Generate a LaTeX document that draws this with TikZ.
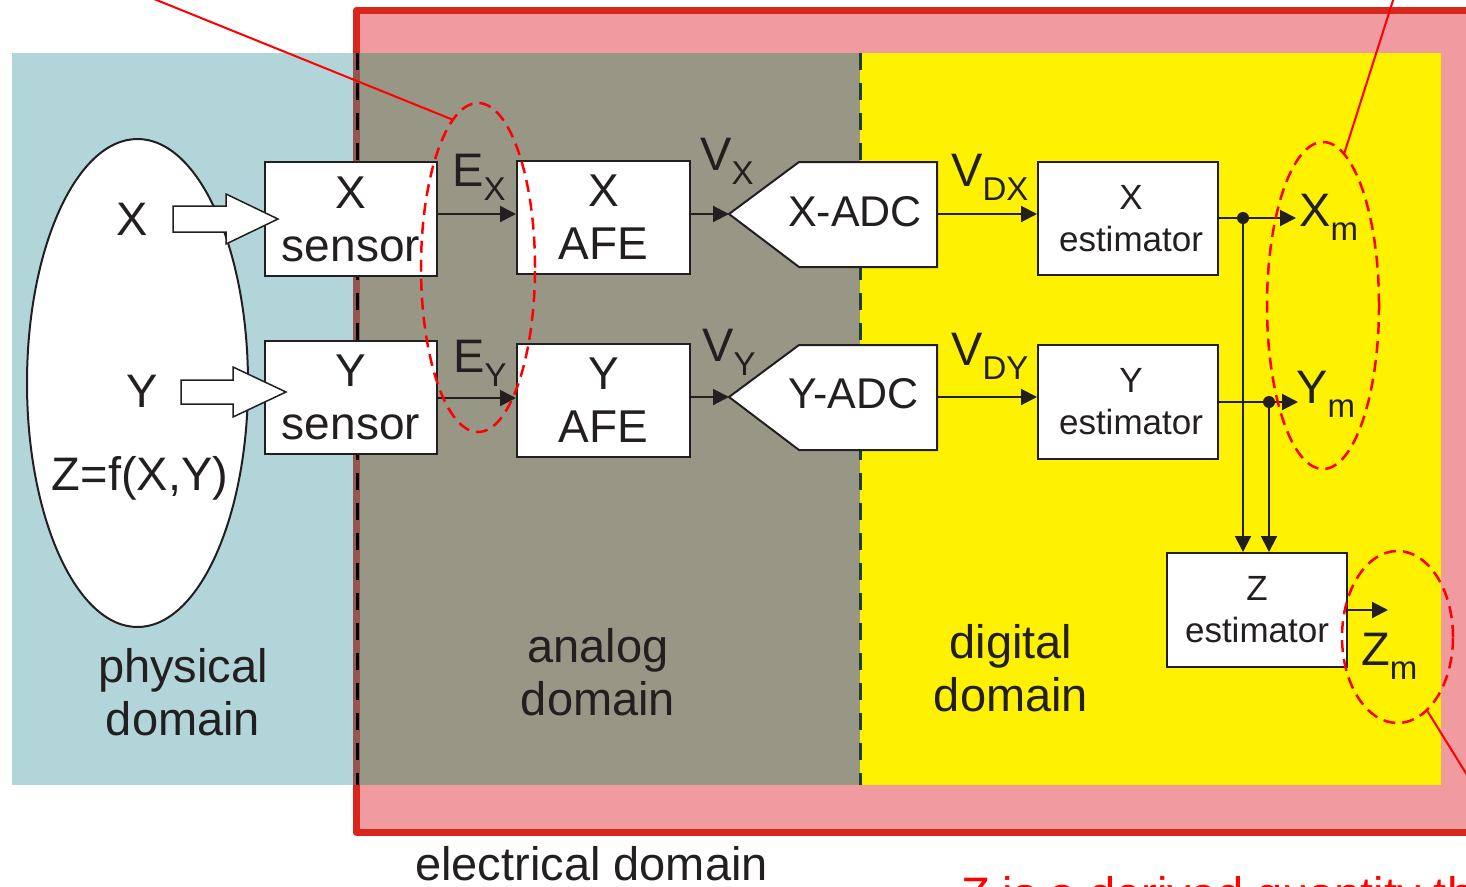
\documentclass[tikz,border=0pt]{standalone}
\usepackage{fontspec}
\setmainfont{Liberation Sans}
\usetikzlibrary{shapes.geometric,arrows.meta}
\definecolor{ink}{RGB}{35,31,32}
\definecolor{physblue}{RGB}{178,213,217}
\definecolor{anagray}{RGB}{152,150,133}
\definecolor{digyellow}{RGB}{255,242,0}
\definecolor{elpink}{RGB}{240,155,160}
\definecolor{elred}{RGB}{218,37,29}
\definecolor{stripecol}{RGB}{150,85,80}
\definecolor{sepgreen}{RGB}{30,60,50}
\definecolor{callred}{RGB}{255,0,0}
\newcommand{\sublbl}[2]{#1\raisebox{-14pt}{\fontsize{33}{33}\selectfont #2}}
\begin{document}
\begin{tikzpicture}[x=1pt,y=-1pt,
  blk/.style={draw=ink, line width=2pt, fill=white, inner sep=0pt, align=center, text=ink, font=\fontsize{46}{53}\selectfont},
  estbox/.style={blk, font=\fontsize{35}{42}\selectfont},
  adcshape/.style={draw=ink, line width=2pt, fill=white},
  adctext/.style={inner sep=0pt, text=ink, font=\fontsize{43}{50}\selectfont},
  conn/.style={draw=ink, line width=2pt, -{Triangle[length=16pt,width=16pt]}},
  plainline/.style={draw=ink, line width=2pt},
  fatarrow/.style={draw=ink, line width=1.5pt, fill=white, line join=miter},
  sig/.style={anchor=base west, inner sep=0pt, text=ink, font=\fontsize{47}{53}\selectfont},
  domlabel/.style={inner sep=0pt, align=center, text=ink, font=\fontsize{47}{53}\selectfont},
  var/.style={anchor=base, inner sep=0pt, text=ink, font=\fontsize{47}{53}\selectfont},
  sepline/.style={line width=3pt, dash pattern=on 17pt off 13pt},
  callell/.style={ellipse, draw=callred, line width=2.5pt, dash pattern=on 12pt off 7pt, inner sep=0pt},
  callline/.style={draw=callred, line width=2pt},
  dotnode/.style={circle, fill=ink, inner sep=0pt, minimum size=12pt}
]
\useasboundingbox (0,0) rectangle (1466,886);
\clip (0,0) rectangle (1466,886);

% electrical domain frame
\filldraw[fill=elpink, draw=elred, line width=7pt, line join=round] (356,10.5) rectangle (1530,832);
% domain regions
\fill[physblue] (12,53) rectangle (357,785);
\fill[anagray] (357,53) rectangle (860,785);
\fill[digyellow] (860,53) rectangle (1441,785);
\draw[stripecol, line width=7pt] (356,53) -- (356,785);
\draw[sepline, black] (357,53) -- (357,785);
\draw[sepline, sepgreen] (860,53) -- (860,785);

% domain labels
\node[domlabel] (physlbl) at (183,692) {physical\\domain};
\node[domlabel] (analbl) at (598,672) {analog\\domain};
\node[domlabel] (diglbl) at (1011,668) {digital\\domain};
\node[var] (elelbl) at (591.5,880) {electrical domain};
\node[anchor=base west, inner sep=0pt, text=callred, font=\fontsize{47}{53}\selectfont] (note) at (961,910) {Z is a derived quantity that};

% physical world
\node[ellipse, draw=ink, line width=2pt, fill=white, minimum width=221pt, minimum height=488pt, inner sep=0pt] (world) at (137.5,383) {};
\node[var] (xq) at (132.5,235) {X};
\node[var] (yq) at (142,407) {Y};
\node[var] (zq) at (140,490) {Z=f(X,Y)};

% sensors
\node[blk, minimum width=172pt, minimum height=114pt] (xsensor) at (351,219) {X\\sensor};
\node[blk, minimum width=172pt, minimum height=113pt] (ysensor) at (351,397.5) {Y\\sensor};

% block arrows
\draw[fatarrow] (173,206) -- (226,206) -- (226,194) -- (278,219) -- (226,244) -- (226,232) -- (173,232) -- cycle;
\draw[fatarrow] (181,380) -- (233,380) -- (233,367) -- (286,392) -- (233,417) -- (233,404) -- (181,404) -- cycle;

% AFEs
\node[blk, minimum width=173pt, minimum height=113pt] (xafe) at (603.5,217.5) {X\\AFE};
\node[blk, minimum width=173pt, minimum height=113pt] (yafe) at (603.5,400.5) {Y\\AFE};

% ADCs
\draw[adcshape] (729,214) -- (799,162) -- (937,162) -- (937,267) -- (799,267) -- cycle;
\draw[adcshape] (729,397) -- (799,345) -- (937,345) -- (937,450) -- (799,450) -- cycle;
\node[adctext] (xadc) at (855,212) {X-ADC};
\node[adctext] (yadc) at (853.5,394) {Y-ADC};
\coordinate (xadcin) at (729,214);
\coordinate (xadcout) at (937,214);
\coordinate (yadcin) at (729,397);
\coordinate (yadcout) at (937,397);

% estimators
\node[estbox, minimum width=180pt, minimum height=113pt] (xest) at (1128,218.5) {\hspace*{6pt}X\\\hspace*{6pt}estimator};
\node[estbox, minimum width=180pt, minimum height=114pt] (yest) at (1128,402) {\hspace*{6pt}Y\\\hspace*{6pt}estimator};
\node[estbox, minimum width=180pt, minimum height=114pt] (zest) at (1257,610) {Z\\estimator};

% rows
\coordinate (rowx) at (0,214);
\coordinate (rowy) at (0,398);
\coordinate (rowz) at (0,610);

% connectors
\draw[conn] (xsensor.east |- rowx) -- (xafe.west |- rowx);
\draw[conn] (ysensor.east |- rowy) -- (yafe.west |- rowy);
\draw[conn] (xafe.east |- xadcin) -- (xadcin);
\draw[conn] (yafe.east |- yadcin) -- (yadcin);
\draw[conn] (xadcout) -- (xest.west |- xadcout);
\draw[conn] (yadcout) -- (yest.west |- yadcout);

\node[dotnode] (dx) at (1243,218) {};
\node[dotnode] (dy) at (1269,402) {};
\coordinate (xmtip) at (1296,218);
\coordinate (ymtip) at (1298,402);
\coordinate (zmtip) at (1388,610);
\draw[conn] (xest.east |- dx) -- (xmtip);
\draw[conn] (yest.east |- dy) -- (ymtip);
\draw[conn] (dx.center) -- (zest.north -| dx);
\draw[conn] (dy.center) -- (zest.north -| dy);
\draw[conn] (zest.east |- rowz) -- (zmtip);

% signal labels
\node[sig] (ex) at (452,186) {\sublbl{E}{X}};
\node[sig] (ey) at (453,372) {\sublbl{E}{Y}};
\node[sig] (vx) at (700,170) {\sublbl{V}{X}};
\node[sig] (vy) at (702,361) {\sublbl{V}{Y}};
\node[sig] (vdx) at (951,186) {\sublbl{V}{DX}};
\node[sig] (vdy) at (951,365) {\sublbl{V}{DY}};
\node[sig] (xm) at (1299,226) {\sublbl{X}{m}};
\node[sig] (ym) at (1296,403) {\sublbl{Y}{m}};
\node[sig] (zm) at (1361,665) {\sublbl{Z}{m}};

% callout ellipses and lines
\node[callell, minimum width=114pt, minimum height=329pt] (eell) at (478,267.5) {};
\node[callell, minimum width=112pt, minimum height=327pt] (mell) at (1323,305.5) {};
\node[callell, minimum width=111pt, minimum height=172pt] (zell) at (1397.5,637) {};
\coordinate (call1) at (107,-20);
\coordinate (call2) at (1399.5,-20);
\coordinate (call3) at (1490,812);
\draw[callline] (call1) -- (eell.100);
\draw[callline] (call2) -- (mell.82);
\draw[callline] (call3) -- (zell.-68);
\end{tikzpicture}
\end{document}
